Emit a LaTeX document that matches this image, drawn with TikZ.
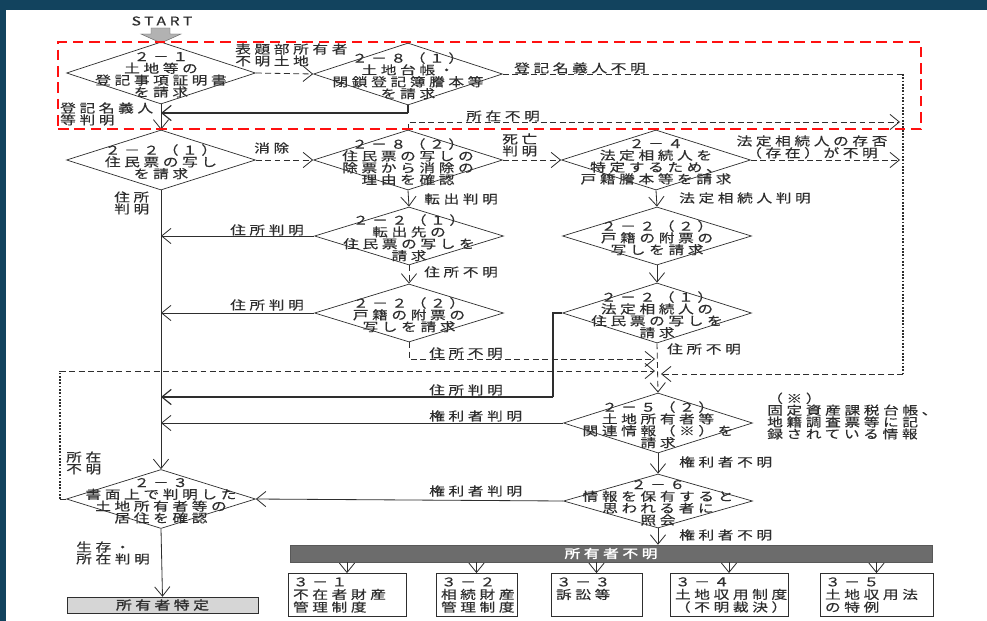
\documentclass[tikz,border=0pt]{standalone}
\usepackage{fontspec}
\setmainfont{Noto Sans CJK JP}[FakeStretch=1.3,LetterSpace=30,FakeBold=0.35,
  BoldFont={Noto Sans CJK JP},BoldFeatures={FakeBold=2}]
\usepackage{tikz}
\usetikzlibrary{arrows.meta,shapes.geometric}
\definecolor{frame}{HTML}{12435E}
\definecolor{ink}{HTML}{2E2E2E}
\definecolor{redline}{HTML}{FF1010}
\definecolor{bargray}{HTML}{6C6C6C}
\definecolor{boxgray}{HTML}{D6D6D6}
\newcommand\jtext{\fontsize{10.3pt}{10.1pt}\selectfont}
\newcommand\btext{\fontsize{10.3pt}{10.8pt}\selectfont}

\tikzset{
  dia/.style={diamond, draw=ink, line width=.6pt, inner sep=0pt,
              minimum width=5.67cm, minimum height=#1},
  dia/.default=1.8cm,
  dtxt/.style={align=center, inner sep=0pt, text=ink, font=\jtext, yshift=-1.5pt},
  lbl/.style={anchor=west, align=left, inner sep=0pt, text=ink, font=\jtext},
  flow/.style={draw=ink, line width=.7pt},
  dsh/.style={flow, dash pattern=on 5pt off 3pt},
  dots/.style={flow, line width=1.3pt, dash pattern=on 1.5pt off 1.3pt},
  heavy/.style={flow, line width=2.2pt},
  sbox/.style={draw=ink, line width=.6pt, align=left, text width=#1,
               inner xsep=.15cm, minimum height=1.14cm, text=ink, font=\btext},
}

\begin{document}
\begin{tikzpicture}[x=0.03cm, y=-0.03cm, >={Straight Barb[length=8pt,width=13pt]}]
  \useasboundingbox (0,0) rectangle (987,621);
  \fill[frame] (0,0) rectangle (987,621);
  \fill[white] (6,10) rectangle (987,621);

  % start
  \node[text=ink, font=\jtext, inner sep=0pt] (start) at (162,21) {START};
  \fill[gray!60, draw=gray!80!black, line width=.4pt]
    (151,28) -- (170,28) -- (170,34) -- (181,34) -- (161,43) -- (141,34) -- (151,34) -- cycle;

  % diamonds
  \node[dia=1.86cm] (d21) at (161,73) {};
  \node[dtxt] (t21) at (d21) {２－１\\土地等の\\登記事項証明書\\を請求};
  \node[dia=1.86cm] (d281) at (408,74) {};
  \node[dtxt] (t281) at (d281) {２－８（１）\\土地台帳・\\閉鎖登記簿謄本等\\を請求};
  \node[dia] (d221) at (161,160) {};
  \node[dtxt] (t221) at (d221) {２－２（１）\\住民票の写し\\を請求};
  \node[dia] (d282) at (408,160) {};
  \node[dtxt] (t282) at (d282) {２－８（２）\\住民票の写しの\\除票から消除の\\理由を確認};
  \node[dia] (d24) at (656,160) {};
  \node[dtxt] (t24) at (d24) {２－４\\法定相続人を\\特定するため、\\戸籍謄本等を請求};
  \node[dia=1.74cm] (d221m) at (409,236) {};
  \node[dtxt] (t221m) at (d221m) {２－２（１）\\転出先の\\住民票の写しを\\請求};
  \node[dia=1.74cm] (d222r) at (657,236) {};
  \node[dtxt] (t222r) at (d222r) {２－２（２）\\戸籍の附票の\\写しを請求};
  \node[dia=1.74cm] (d222m) at (409,313) {};
  \node[dtxt] (t222m) at (d222m) {２－２（２）\\戸籍の附票の\\写しを請求};
  \node[dia] (d221r) at (657,313) {};
  \node[dtxt] (t221r) at (d221r) {２－２（１）\\法定相続人の\\住民票の写しを\\請求};
  \node[dia] (d252) at (658,423) {};
  \node[dtxt] (t252) at (d252) {２－５（２）\\土地所有者等\\関連情報（※）を\\請求};
  \node[dia=1.62cm] (d26) at (658,501) {};
  \node[dtxt] (t26) at (d26) {２－６\\情報を保有すると\\思われる者に\\照会};
  \node[dia=1.77cm] (d23) at (161,499) {};
  \node[dtxt] (t23) at (d23) {２－３\\書面上で判明した\\土地所有者等の\\居住を確認};

  % results
  \node[draw=ink!80, fill=bargray, minimum width=19.26cm, minimum height=.51cm,
        inner sep=0pt, text=white, font=\jtext\bfseries] (bar) at (611,553.5) {所有者不明};
  \node[draw=ink, fill=boxgray, minimum width=5.73cm, minimum height=.48cm,
        inner sep=0pt, text=ink, font=\jtext\bfseries] (owner) at (162.5,605) {所有者特定};
  \node[sbox=3.24cm] (b31) at (347,595) {３－１\\不在者財産\\管理制度};
  \node[sbox=2.13cm] (b32) at (476.5,595) {３－２\\相続財産\\管理制度};
  \node[sbox=2.43cm] (b33) at (596.5,595) {３－３\\訴訟等\\\phantom{訴}};
  \node[sbox=3.24cm] (b34) at (729,595) {３－４\\土地収用制度\\（不明裁決）};
  \node[sbox=3.09cm] (b35) at (876.5,595) {３－５\\土地収用法\\の特例};

  % helper points
  \coordinate (j1) at (161,113);
  \coordinate (r1) at (900,122);
  \coordinate (rb) at (903,374);
  \coordinate (m1) at (661,374);
  \coordinate (m2) at (655,359);
  \coordinate (m3) at (655,371);
  \coordinate (ll) at (60,371);
  \coordinate (k1) at (553,397);

  % top rows
  \draw[dsh,->] (d21.east) -- (d281.west);
  \draw[flow,->] (d21.south) -- (d221.north);
  \draw[heavy] (d281.south) -- (d281.south |- j1);
  \draw[flow,line width=1pt,->] (d281.south |- j1) -- (j1);
  \draw[dsh,->] (d282.north) |- (r1);
  \draw[dsh] (d281.east) -- (d281.east -| rb);
  \draw[dots] (d281.east -| rb) -- (rb);
  \draw[dsh,->] (rb) -- (m1);
  \draw[dsh,->] (d221.east) -- (d282.west);
  \draw[dsh,->] (d282.east) -- (d24.west);
  \draw[dsh,->] (d24.east) -- (d24.east -| r1);

  % middle column
  \draw[flow,->] (d282.south) -- (d221m.north);
  \draw[flow,->] (d221m.west) -- (d221m.west -| d23.north);
  \draw[dsh,->] (d221m.south) -- (d222m.north);
  \draw[flow,->] (d222m.west) -- (d222m.west -| d23.north);
  \draw[dsh,->] (d222m.south) |- (m2);

  % right column
  \draw[flow,->] (d24.south) -- (d222r.north);
  \draw[flow,->] (d222r.south) -- (d221r.north);
  \draw[heavy] (d221r.west) -| (k1);
  \draw[flow,line width=1pt,->] (k1) -- (k1 -| d23.north);
  \draw[dsh,->] (d221r.south) -- (d252.north);
  \draw[flow,->] (d252.west) -- (d252.west -| d23.north);
  \draw[flow,->] (d252.south) -- (d26.north);
  \draw[flow,->] (d26.west) -- (d23.east);
  \draw[flow,->] (d26.south) -- (d26.south |- bar.north);

  % left column
  \draw[flow,->] (d221.south) -- (d23.north);
  \draw[dsh] (d23.west) -- (d23.west -| ll);
  \draw[dots] (d23.west -| ll) -- (ll);
  \draw[dsh,->] (ll) -- (m3);
  \draw[flow,->] (d23.south) -- (owner.north);

  % bar to boxes
  \foreach \b in {b31,b32,b33,b34,b35}
    \draw[flow,->] (bar.south -| \b.north) -- (\b.north);

  % labels
  \node[lbl] (l1) at (235,55) {表題部所有者\\不明土地};
  \node[lbl] (l2) at (514,68) {登記名義人不明};
  \node[lbl] (l3) at (60,114) {登記名義人\\等判明};
  \node[lbl] (l4) at (466,116) {所在不明};
  \node[lbl] (l5) at (254,148) {消除};
  \node[lbl] (l6) at (502,145) {死亡\\判明};
  \node[lbl, anchor=center, align=center] (l7) at (812,147) {法定相続人の存否\\（存在）が不明};
  \node[lbl] (l8) at (114,203) {住所\\判明};
  \node[lbl] (l9) at (424,199) {転出判明};
  \node[lbl] (l10) at (679,198) {法定相続人判明};
  \node[lbl] (l11) at (230,230) {住所判明};
  \node[lbl] (l12) at (424,272) {住所不明};
  \node[lbl] (l13) at (230,305) {住所判明};
  \node[lbl] (l14) at (667,349) {住所不明};
  \node[lbl] (l15) at (429,353) {住所不明};
  \node[lbl] (l16) at (429,390) {住所判明};
  \node[lbl] (l17) at (429,416) {権利者判明};
  \node[lbl] (note) at (767,416) {（※）\\固定資産課税台帳、\\地籍調査票等に記\\録されている情報};
  \node[lbl] (l18) at (679,462) {権利者不明};
  \node[lbl] (l19) at (429,491) {権利者判明};
  \node[lbl] (l20) at (679,535) {権利者不明};
  \node[lbl] (l21) at (66,463) {所在\\不明};
  \node[lbl] (l22) at (76,553) {生存・\\所在判明};

  % focus frame
  \node[draw=redline, line width=2pt, dash pattern=on 9pt off 5pt, inner sep=0pt,
        minimum width=25.89cm, minimum height=2.61cm] (focus) at (489.5,85.5) {};
\end{tikzpicture}
\end{document}
